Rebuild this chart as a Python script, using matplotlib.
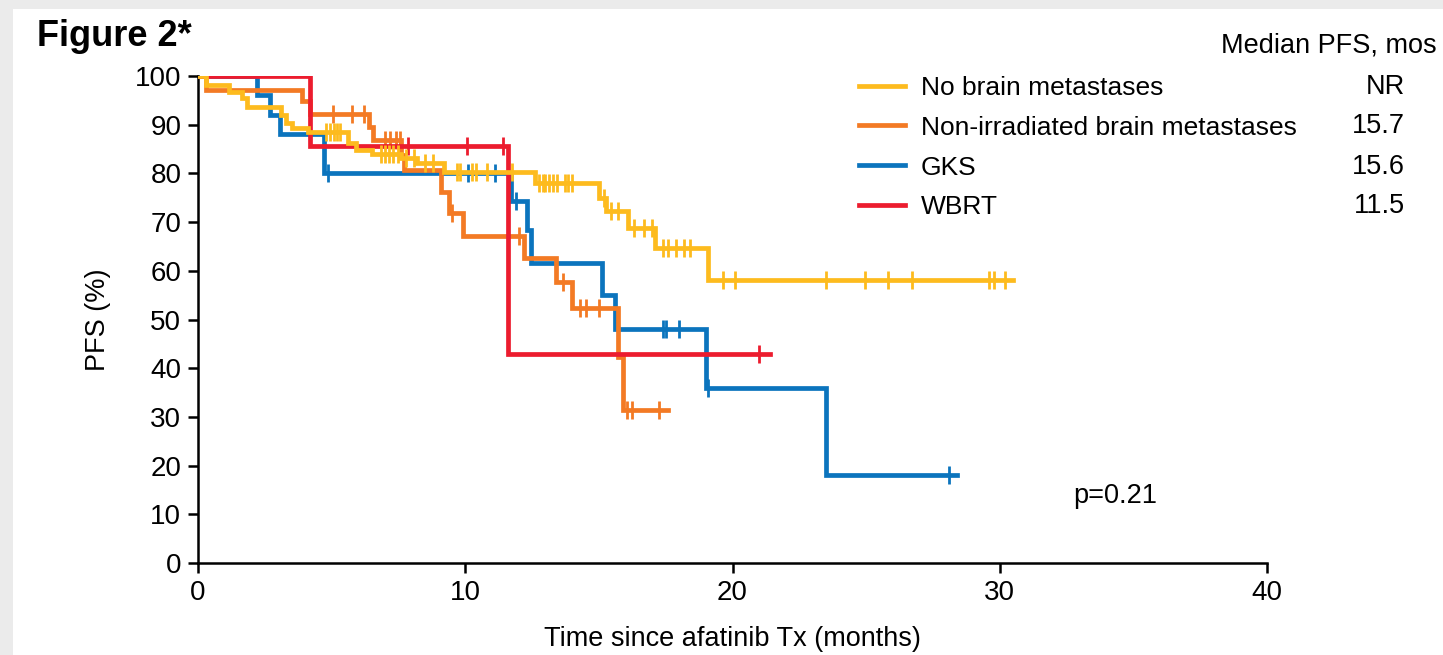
import numpy as np
from matplotlib import pyplot as plt
from matplotlib.patches import Rectangle

plt.rcParams["font.family"] = ["Liberation Sans", "DejaVu Sans"]

# Kaplan-Meier step data: event times (months) and PFS (%) after each event
no_bm_t = [0.3, 1.15, 1.65, 1.85, 3.1, 3.3, 3.5, 4.1, 5.6, 5.9, 6.5, 7.6, 8.2, 9.2, 12.6, 15.0, 15.25, 16.1, 17.1, 19.1]
no_bm_s = [98.2, 96.8, 95.5, 93.6, 92.0, 90.3, 89.3, 88.4, 86.3, 84.9, 84.0, 83.1, 82.1, 80.2, 78.0, 75.0, 72.3, 68.8, 64.7, 58.1]
no_bm_cens = [4.8, 4.95, 5.1, 5.2, 5.3, 6.85, 7.0, 7.15, 7.3, 7.5, 7.8, 8.1, 8.5, 8.8,
              9.7, 9.8, 10.25, 10.4, 10.8, 11.75, 12.76, 12.9, 13.0, 13.15, 13.28, 13.43,
              13.73, 13.85, 14.0, 15.2, 15.45, 15.7, 16.3, 16.7, 17.0, 17.4, 17.6, 17.9,
              18.2, 18.4, 19.65, 20.1, 23.5, 24.96, 25.8, 26.7, 29.6, 29.8, 30.2]
no_bm_end = 30.5

nonirr_t = [0.3, 3.9, 4.2, 6.4, 6.55, 7.6, 7.7, 9.1, 9.4, 9.9, 12.2, 13.4, 14.0, 15.7, 15.9]
nonirr_s = [97.1, 94.9, 92.2, 89.5, 86.9, 83.8, 80.7, 76.1, 71.9, 67.1, 62.6, 57.7, 52.3, 42.3, 31.4]
nonirr_cens = [5.05, 5.76, 6.2, 7.0, 7.2, 7.4, 7.55, 9.5, 12.0, 13.65, 14.3, 14.5, 15.0,
               16.05, 16.25, 17.25]
nonirr_end = 17.6

gks_t = [2.2, 2.7, 3.07, 4.7, 11.7, 12.3, 12.45, 15.1, 15.6, 19.0, 23.5]
gks_s = [96.0, 92.0, 88.0, 80.0, 74.3, 68.4, 61.6, 55.0, 48.0, 36.0, 18.0]
gks_cens = [4.87, 10.1, 11.1, 11.9, 17.4, 17.5, 18.0, 19.1, 28.1]
gks_end = 28.4

wbrt_t = [4.2, 11.6]
wbrt_s = [85.7, 42.9]
wbrt_cens = [7.86, 10.07, 11.4, 21.0]
wbrt_end = 21.4

labels = ["No brain metastases", "Non-irradiated brain metastases", "GKS", "WBRT"]
medians = ["NR", "15.7", "15.6", "11.5"]
colors = ["#FDBB1E", "#F37A24", "#0B74BD", "#EC1C2E"]

series = [
    (no_bm_t, no_bm_s, no_bm_cens, no_bm_end),
    (nonirr_t, nonirr_s, nonirr_cens, nonirr_end),
    (gks_t, gks_s, gks_cens, gks_end),
    (wbrt_t, wbrt_s, wbrt_cens, wbrt_end),
]

fig = plt.figure(figsize=(14.43, 6.55), dpi=100)
fig.patch.set_facecolor("#ebebeb")
fig.add_artist(Rectangle((13 / 1443, 0), 1, 1 - 9 / 655, transform=fig.transFigure,
                         facecolor="white", edgecolor="none", zorder=-1))

ax = fig.add_axes([198 / 1443, 1 - 563 / 655, (1267 - 198) / 1443, (563 - 76) / 655])
ax.set_facecolor("none")

zorders = [3, 2.5, 2.2, 2.8]
for (t, s, cens, end), lab, col, z in zip(series, labels, colors, zorders):
    x = [0] + list(t) + [end]
    y = [100] + list(s) + [s[-1]]
    ax.step(x, y, where="post", color=col, lw=3.4, label=lab, zorder=z, solid_joinstyle="miter")
    steps = np.array([100] + list(s))
    idx = np.searchsorted(np.array(t), np.array(cens), side="right")
    ax.plot(cens, steps[idx], ls="none", marker="|", ms=13, mew=2.0, color=col, zorder=z)

ax.set_xlim(0, 40)
ax.set_ylim(0, 100)
ax.set_xticks([0, 10, 20, 30, 40])
ax.set_yticks(range(0, 101, 10))
ax.spines["top"].set_visible(False)
ax.spines["right"].set_visible(False)
ax.spines["left"].set_linewidth(1.8)
ax.spines["bottom"].set_linewidth(1.8)
ax.tick_params(labelsize=20, width=1.8, length=7, pad=5)
ax.set_xlabel("Time since afatinib Tx (months)", fontsize=19.5, labelpad=15)
ax.set_ylabel("PFS (%)", fontsize=19.5, labelpad=17)

leg = ax.legend(loc="upper left", bbox_to_anchor=(650 / 1069, 1.022), frameon=False,
                fontsize=19, handlelength=1.75, handletextpad=0.6, labelspacing=0.6,
                borderaxespad=0)

row_y = [87, 126, 167, 206]
for m, yy in zip(medians, row_y):
    fig.text(1405 / 1443, 1 - yy / 655, m, ha="right", va="center", fontsize=19.5)
fig.text(1437 / 1443, 1 - 46 / 655, "Median PFS, mos", ha="right", va="center", fontsize=19.5)

ax.text(1073 / 1443, 1 - 496 / 655, "p=0.21", transform=fig.transFigure, fontsize=19.5,
        va="center", ha="left")

fig.text(37 / 1443, 1 - 36 / 655, "Figure 2*", fontsize=26, fontweight="bold",
         family=["Liberation Sans Narrow", "Liberation Sans", "DejaVu Sans"],
         va="center", ha="left")

fig.savefig("out.png", dpi=100, facecolor=fig.get_facecolor())
